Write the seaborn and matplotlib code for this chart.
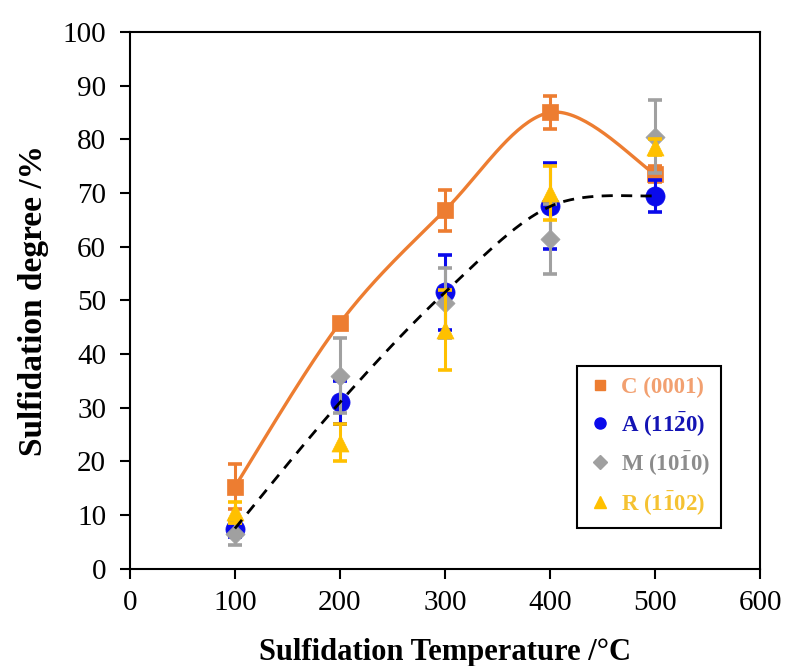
import numpy as np
import pandas as pd
import matplotlib
matplotlib.use("Agg")
import matplotlib.pyplot as plt
from matplotlib.lines import Line2D
import seaborn as sns

# ---- data ----
temps = [100, 200, 300, 400, 500]
c_vals = [15.3, 45.8, 66.8, 85.0, 73.5]
c_err = [4.2, 1.0, 3.8, 3.0, 1.5]
a_vals = [7.5, 31.0, 51.5, 67.5, 69.5]
a_err = [1.5, 4.0, 7.0, 8.0, 3.0]
m_vals = [6.5, 36.0, 49.5, 61.5, 80.5]
m_err = [2.0, 7.0, 6.5, 6.5, 6.8]
r_vals = [10.5, 23.5, 44.5, 70.0, 78.5]
r_err = [2.0, 3.5, 7.5, 5.0, 1.5]
labels = ["C (0001)", r"A (11$\mathbf{\bar{2}}$0)", r"M (10$\mathbf{\bar{1}}$0)",
          r"R (1$\mathbf{\bar{1}}$02)"]
xticks = [0, 100, 200, 300, 400, 500, 600]
yticks = list(range(0, 101, 10))

colors = ["#ED7D31", "#0A0AEB", "#A0A0A0", "#FFC000"]
label_colors = ["#F2A070", "#1414B4", "#8C8C8C", "#F5C232"]
markers = ["s", "o", "D", "^"]
msizes = [120, 190, 95, 150]

sns.set_theme(style="white")
plt.rcParams["font.family"] = ["Liberation Serif", "DejaVu Serif"]
plt.rcParams["mathtext.fontset"] = "custom"
plt.rcParams["mathtext.rm"] = "Liberation Serif:bold"
plt.rcParams["mathtext.bf"] = "Liberation Serif:bold"
plt.rcParams["text.color"] = "black"
plt.rcParams["axes.labelcolor"] = "black"

fig = plt.figure(figsize=(7.87, 6.66), dpi=100)
ax = fig.add_axes([0.165, 0.146, 0.801, 0.806])


def smooth(xs, ys, n=40):
    xs = np.asarray(xs, float)
    ys = np.asarray(ys, float)
    P = np.column_stack([xs, ys])
    Pe = np.vstack([P[0], P, P[-1]])
    out = []
    t = np.linspace(0, 1, n)[:, None]
    for i in range(len(P) - 1):
        p0, p1, p2, p3 = Pe[i], Pe[i + 1], Pe[i + 2], Pe[i + 3]
        b1 = p1 + (p2 - p0) / 6.0
        b2 = p2 - (p3 - p1) / 6.0
        seg = ((1 - t) ** 3) * p1 + 3 * ((1 - t) ** 2) * t * b1 + 3 * (1 - t) * t ** 2 * b2 + t ** 3 * p2
        out.append(seg if i == 0 else seg[1:])
    arr = np.vstack(out)
    return pd.DataFrame({"x": arr[:, 0], "y": arr[:, 1]})


# orange smooth line through C
dc = smooth(temps, c_vals)
sns.lineplot(data=dc, x="x", y="y", sort=False, estimator=None, color=colors[0],
             lw=2.4, ax=ax, zorder=2)

series = [(c_vals, c_err), (a_vals, a_err), (m_vals, m_err), (r_vals, r_err)]
for i, (v, e) in enumerate(series):
    ax.errorbar(temps, v, yerr=e, fmt="none", ecolor=colors[i], elinewidth=2.2,
                capsize=5, capthick=2.6, zorder=3 + i)
    df = pd.DataFrame({"x": temps, "y": v})
    sns.scatterplot(data=df, x="x", y="y", marker=markers[i], s=msizes[i],
                    color=colors[i], edgecolor=colors[i], linewidth=0.5,
                    ax=ax, zorder=3 + i)

# dashed smooth line through A
da = smooth(temps, a_vals)
sns.lineplot(data=da, x="x", y="y", sort=False, estimator=None, color="black",
             lw=2.0, ax=ax, zorder=8, dashes=False)
ax.lines[-1].set_dashes([4, 3])

ax.set_xlim(0, 600)
ax.set_ylim(0, 100)
ax.set_xticks(xticks)
ax.set_yticks(yticks)
ax.tick_params(axis="both", direction="out", length=7, width=1.5, labelsize=21,
               color="black", labelcolor="black", bottom=True, left=True, top=False, right=False)
ax.tick_params(axis="x", pad=8)
ax.tick_params(axis="y", pad=10)
for s in ax.spines.values():
    s.set_color("black")
    s.set_linewidth(1.5)

ax.set_xlabel("Sulfidation Temperature /°C", fontsize=22, fontweight="bold", labelpad=16,
              color="black")
ax.set_ylabel("Sulfidation degree /%", fontsize=24, fontweight="bold", labelpad=10,
              color="black")

handles = [Line2D([], [], linestyle="none", marker=markers[i], color=colors[i],
                  markersize=[7, 8, 7, 9][i]) for i in range(4)]
leg = ax.legend(handles, labels, loc="upper left", bbox_to_anchor=(0.7095, 0.378),
                borderaxespad=0, frameon=True, fancybox=False, framealpha=1,
                edgecolor="black", prop={"weight": "bold", "size": 16.5},
                labelspacing=0.5, handletextpad=0.4, borderpad=0.5, handlelength=1.0)
leg.get_frame().set_linewidth(1.5)
for t, c in zip(leg.get_texts(), label_colors):
    t.set_color(c)

fig.savefig("out.png", dpi=100)
